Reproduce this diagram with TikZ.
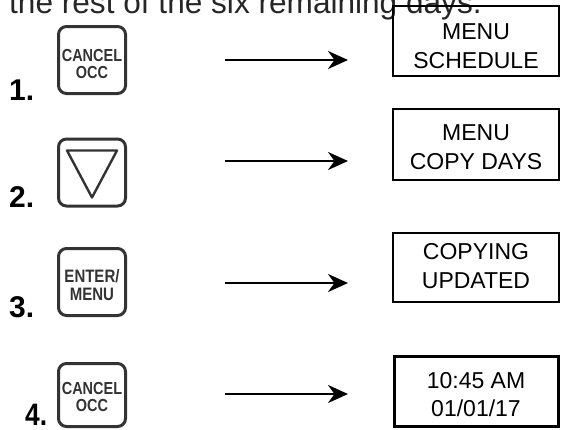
\documentclass[tikz,border=0pt]{standalone}
\usepackage{fontspec}
\setmainfont{Liberation Sans}
\usetikzlibrary{arrows.meta,positioning}
\definecolor{keygray}{HTML}{333333}
\tikzset{
  key/.style = {draw=keygray, line width=3pt, rounded corners=8pt,
    minimum width=67pt, minimum height=67pt, inner sep=0pt},% button outline
  keytext/.style = {align=center, inner sep=0pt, text=keygray,
    font=\fontsize{14.5}{14}\selectfont\bfseries, yscale=1.2,
    transform shape},
  screen/.style = {draw=black, line width=1.8pt, minimum width=166pt,
    minimum height=70pt, inner sep=0pt},% display window
  screentext/.style = {align=center, inner sep=0pt,
    font=\fontsize{23}{29}\selectfont},
  stepno/.style = {anchor=base west, inner sep=0pt,
    font=\fontsize{30}{32}\selectfont\bfseries},
  go/.style = {-{Stealth[length=20pt,width=18pt]}, line width=2.2pt}
}
\begin{document}
\begin{tikzpicture}[x=1pt,y=-1pt]
\useasboundingbox (0,0) rectangle (561,429);
\clip (0,0) rectangle (561,429);
% end of the sentence above, cut at the top
\node[anchor=base west, inner sep=0pt, text=black!85,
  font=\fontsize{31.6}{36}\selectfont] (head) at (9,13.5)
  {the rest of the six remaining days.};

% 1
\node[key] (k1) at (92,60) {};
\node[keytext] (k1t) at (92,64) {CANCEL\\OCC};
\node[stepno] (n1) at (9,100) {1.};
\coordinate (a1s) at (225,60);
\coordinate (a1e) at (348,60);
\draw[go] (a1s) -- (a1e);
\node[screen] (s1) at (476,41) {};
\node[screentext] (s1t) at (476,46.5) {MENU\\SCHEDULE};

% 2
\node[key] (k2) at (92,172.5) {};
\draw[keygray, line width=2.4pt, line join=round, shift={(k2.center)}]
  (-25,-22) -- (25,-22) -- (0,25) -- cycle;
\node[stepno] (n2) at (9,207) {2.};
\coordinate (a2s) at (225,161);
\coordinate (a2e) at (348,161);
\draw[go] (a2s) -- (a2e);
\node[screen, minimum height=71pt] (s2) at (476,144.5) {};
\node[screentext] (s2t) at (476,147.5) {MENU\\COPY DAYS};

% 3
\node[key] (k3) at (92,282) {};
\node[keytext, font=\fontsize{15}{14.5}\selectfont\bfseries, yscale=1] (k3t) at (92,285) {ENTER/\\MENU};
\node[stepno] (n3) at (9,317) {3.};
\coordinate (a3s) at (225,283);
\coordinate (a3e) at (348,283);
\draw[go] (a3s) -- (a3e);
\node[screen, minimum height=69pt] (s3) at (476,267.5) {};
\node[screentext] (s3t) at (476,266.5) {COPYING\\UPDATED};

% 4
\node[key, minimum height=63pt] (k4) at (92,395) {};
\node[keytext] (k4t) at (92,397) {CANCEL\\OCC};
\node[stepno, font=\fontsize{31}{32}\selectfont\bfseries, xscale=0.85] (n4) at (25,425) {4.};
\coordinate (a4s) at (225,394);
\coordinate (a4e) at (348,394);
\draw[go] (a4s) -- (a4e);
\node[screen, line width=3.2pt, minimum width=164pt, minimum height=70pt] (s4) at (476.5,391.5) {};
\node[screentext, font=\fontsize{23}{28}\selectfont] (s4t) at (476,395) {10:45 AM\\01/01/17};
\end{tikzpicture}
\end{document}
